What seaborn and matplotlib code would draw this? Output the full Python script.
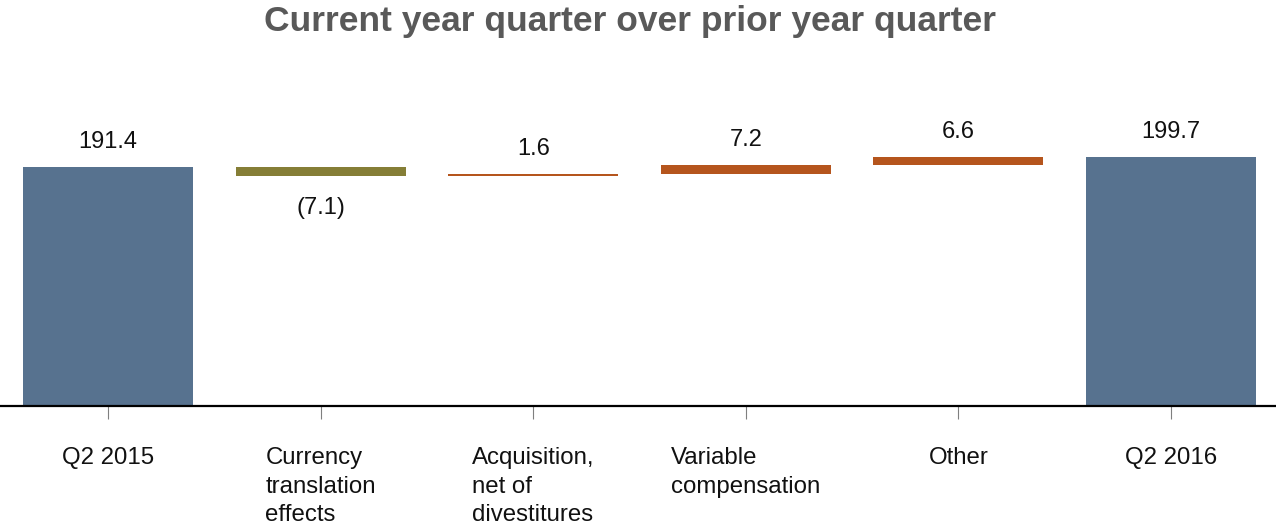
import numpy as np
import pandas as pd
import matplotlib
matplotlib.use("Agg")
import matplotlib.pyplot as plt
import seaborn as sns

# Waterfall: Q2 2015 -> Q2 2016 bridge
categories = ["Q2 2015", "Currency\ntranslation\neffects", "Acquisition,\nnet of\ndivestitures",
              "Variable\ncompensation", "Other", "Q2 2016"]
changes = [191.4, -7.1, 1.6, 7.2, 6.6, 199.7]
is_total = [True, False, False, False, False, True]
value_labels = ["191.4", "(7.1)", "1.6", "7.2", "6.6", "199.7"]

BLUE = "#57728F"
OLIVE = "#857E36"
RUST = "#B5551D"

# Bottoms and heights of each floating segment
bottoms, heights = [], []
running = 0.0
for v, tot in zip(changes, is_total):
    if tot:
        bottoms.append(0.0)
        heights.append(v)
        running = v
    else:
        bottoms.append(running)
        heights.append(v)
        running += v
colors = [BLUE if t else (OLIVE if v < 0 else RUST) for v, t in zip(changes, is_total)]

df = pd.DataFrame({"category": categories, "height": heights})

sns.set_theme(style="white")
plt.rcParams["font.family"] = ["Liberation Sans", "DejaVu Sans"]

fig = plt.figure(figsize=(12.76, 5.24), dpi=100)
ax = fig.add_axes([0.0, 0.2252, 1.0, 0.5719])

sns.barplot(data=df, x="category", y="height", order=categories, bottom=bottoms,
            color=BLUE, width=0.8, saturation=1, errorbar=None, ax=ax)
for patch, c in zip(ax.patches, colors):
    patch.set_facecolor(c)
    patch.set_edgecolor("none")

ax.set_xlim(-0.508, 5.494)
ax.set_ylim(0, 240)

for i, (b, h, lab) in enumerate(zip(bottoms, heights, value_labels)):
    top = max(b, b + h)
    low = min(b, b + h)
    if h >= 0:
        ax.annotate(lab, (i, top), xytext=(0, 10), textcoords="offset points",
                    ha="center", va="bottom", fontsize=17, color="#111111")
    else:
        ax.annotate(lab, (i, low), xytext=(0, -15.5), textcoords="offset points",
                    ha="center", va="top", fontsize=17, color="#111111")

for s in ["top", "right", "left"]:
    ax.spines[s].set_visible(False)
ax.spines["bottom"].set_color("#000000")
ax.spines["bottom"].set_linewidth(1.6)
ax.set_yticks([])
ax.set_xlabel("")
ax.set_ylabel("")
ax.tick_params(axis="x", bottom=True, length=9.5, width=0.8, color="#7f7f7f",
               pad=20, labelsize=17.3, labelcolor="#111111")
for t in ax.get_xticklabels():
    t.set_multialignment("left")
    t.set_linespacing(1.39)

fig.text(630 / 1276, 1 - 31 / 524, "Current year quarter over prior year quarter",
         ha="center", va="baseline", fontsize=25.5, fontweight="bold", color="#595959")

fig.savefig("out.png", dpi=100)
